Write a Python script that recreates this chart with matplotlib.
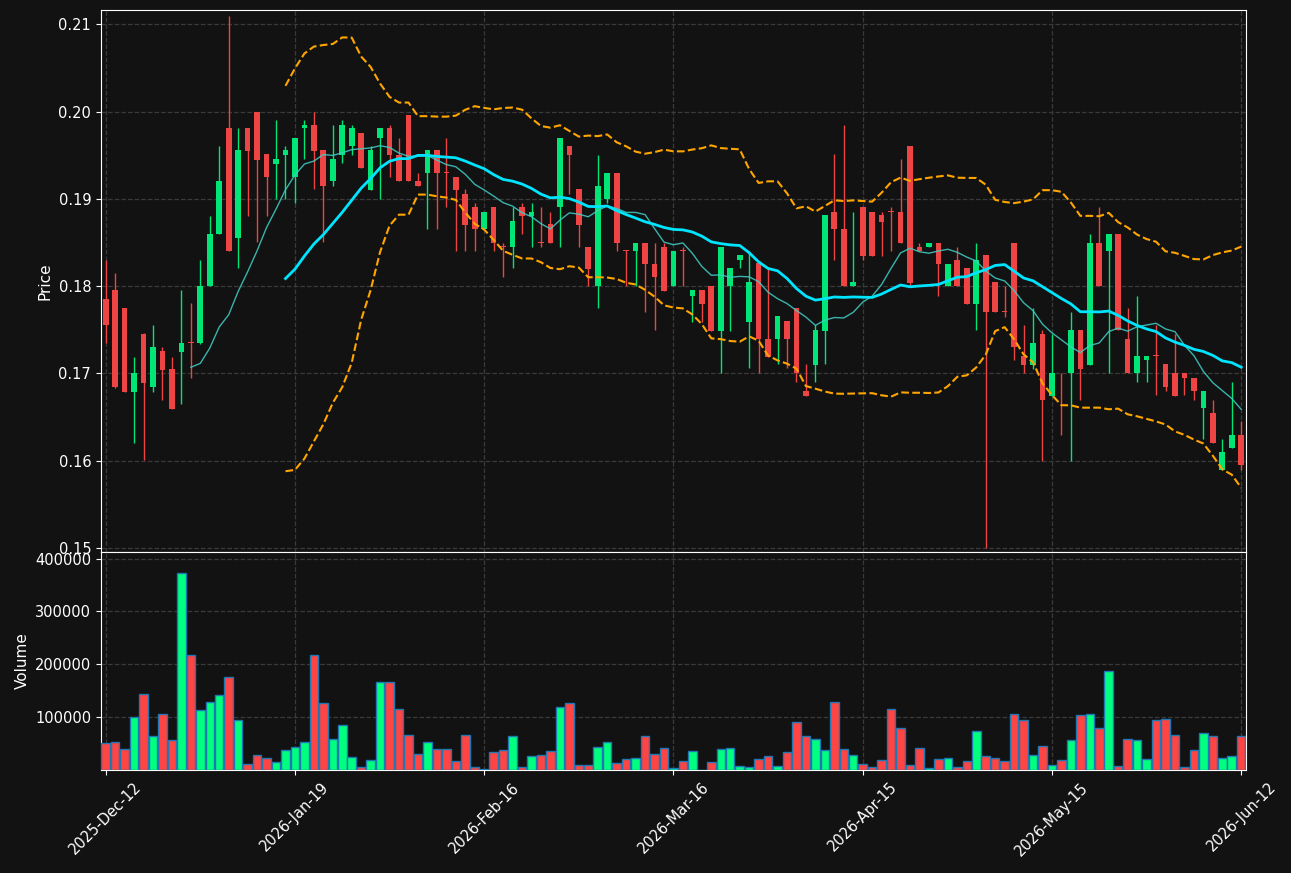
"""Candlestick chart with MA10/MA20, Bollinger bands and a volume panel."""

import matplotlib

matplotlib.use("Agg")

import matplotlib.pyplot as plt  # noqa: E402
import numpy as np  # noqa: E402
import pandas as pd  # noqa: E402

BG = "#121212"
UP = "#00e676"
DOWN = "#ef4444"
VOL_UP = "#00ff7f"
VOL_DOWN = "#ff4444"
VOL_EDGE = "#1f77b4"
MA_SHORT = "#40d0c8"
MA_LONG = "#00e5ff"
BAND = "#ffa500"
GRID = "#3a3a3a"
INK = "white"

opens = [
    0.1785, 0.1796, 0.1775, 0.1679, 0.1745, 0.1685, 0.1726, 0.1705, 0.1725, 0.1736,
    0.1735, 0.1800, 0.1860, 0.1981, 0.1855, 0.1981, 0.2000, 0.1951, 0.1940, 0.1950,
    0.1925, 0.1981, 0.1985, 0.1956, 0.1920, 0.1950, 0.1961, 0.1976, 0.1910, 0.1970,
    0.1981, 0.1950, 0.1996, 0.1921, 0.1930, 0.1956, 0.1931, 0.1925, 0.1906, 0.1891,
    0.1866, 0.1891, 0.1846, 0.1845, 0.1891, 0.1880, 0.1851, 0.1871, 0.1891, 0.1961,
    0.1911, 0.1845, 0.1800, 0.1900, 0.1930, 0.1841, 0.1840, 0.1850, 0.1825, 0.1845,
    0.1800, 0.1841, 0.1789, 0.1796, 0.1800, 0.1749, 0.1800, 0.1830, 0.1759, 0.1826,
    0.1740, 0.1740, 0.1760, 0.1775, 0.1680, 0.1710, 0.1749, 0.1885, 0.1866, 0.1800,
    0.1891, 0.1885, 0.1881, 0.1886, 0.1885, 0.1961, 0.1845, 0.1845, 0.1850, 0.1800,
    0.1830, 0.1821, 0.1780, 0.1836, 0.1805, 0.1771, 0.1850, 0.1720, 0.1710, 0.1745,
    0.1674, 0.1701, 0.1700, 0.1750, 0.1710, 0.1850, 0.1840, 0.1860, 0.1740, 0.1700,
    0.1715, 0.1721, 0.1711, 0.1700, 0.1700, 0.1695, 0.1660, 0.1655, 0.1590, 0.1615,
    0.1630,
]
highs = [
    0.1830, 0.1815, 0.1775, 0.1719, 0.1746, 0.1755, 0.1730, 0.1719, 0.1796, 0.1781,
    0.1830, 0.1880, 0.1961, 0.2110, 0.1981, 0.1981, 0.2000, 0.1951, 0.1990, 0.1961,
    0.1970, 0.1990, 0.2000, 0.1956, 0.1985, 0.1990, 0.1985, 0.1976, 0.1961, 0.1981,
    0.1985, 0.1970, 0.1996, 0.1930, 0.1956, 0.1956, 0.1970, 0.1925, 0.1911, 0.1895,
    0.1885, 0.1891, 0.1850, 0.1891, 0.1895, 0.1895, 0.1891, 0.1885, 0.1970, 0.1961,
    0.1911, 0.1845, 0.1950, 0.1930, 0.1930, 0.1841, 0.1850, 0.1850, 0.1850, 0.1850,
    0.1840, 0.1845, 0.1796, 0.1796, 0.1800, 0.1845, 0.1821, 0.1836, 0.1840, 0.1826,
    0.1821, 0.1766, 0.1760, 0.1775, 0.1711, 0.1756, 0.1881, 0.1951, 0.1985, 0.1885,
    0.1891, 0.1885, 0.1885, 0.1891, 0.1946, 0.1961, 0.1850, 0.1850, 0.1850, 0.1825,
    0.1845, 0.1821, 0.1850, 0.1836, 0.1805, 0.1800, 0.1850, 0.1755, 0.1775, 0.1750,
    0.1745, 0.1701, 0.1770, 0.1750, 0.1860, 0.1891, 0.1860, 0.1860, 0.1775, 0.1789,
    0.1720, 0.1755, 0.1711, 0.1745, 0.1700, 0.1695, 0.1680, 0.1670, 0.1625, 0.1690,
    0.1645,
]
lows = [
    0.1735, 0.1683, 0.1679, 0.1620, 0.1601, 0.1679, 0.1670, 0.1659, 0.1665, 0.1695,
    0.1734, 0.1800, 0.1860, 0.1840, 0.1821, 0.1880, 0.1851, 0.1880, 0.1900, 0.1900,
    0.1895, 0.1946, 0.1911, 0.1851, 0.1915, 0.1941, 0.1950, 0.1935, 0.1910, 0.1900,
    0.1925, 0.1920, 0.1920, 0.1915, 0.1866, 0.1866, 0.1891, 0.1840, 0.1840, 0.1840,
    0.1866, 0.1840, 0.1810, 0.1821, 0.1860, 0.1845, 0.1845, 0.1850, 0.1845, 0.1906,
    0.1845, 0.1800, 0.1775, 0.1895, 0.1840, 0.1800, 0.1800, 0.1770, 0.1750, 0.1795,
    0.1800, 0.1800, 0.1759, 0.1759, 0.1749, 0.1700, 0.1749, 0.1821, 0.1706, 0.1700,
    0.1719, 0.1711, 0.1706, 0.1690, 0.1674, 0.1690, 0.1711, 0.1830, 0.1800, 0.1800,
    0.1830, 0.1835, 0.1835, 0.1840, 0.1850, 0.1800, 0.1840, 0.1845, 0.1789, 0.1800,
    0.1800, 0.1780, 0.1750, 0.1500, 0.1770, 0.1765, 0.1715, 0.1700, 0.1705, 0.1600,
    0.1674, 0.1630, 0.1600, 0.1670, 0.1710, 0.1800, 0.1700, 0.1750, 0.1700, 0.1690,
    0.1690, 0.1675, 0.1680, 0.1674, 0.1675, 0.1670, 0.1625, 0.1620, 0.1590, 0.1615,
    0.1590,
]
closes = [
    0.1755, 0.1685, 0.1679, 0.1700, 0.1689, 0.1730, 0.1704, 0.1659, 0.1735, 0.1735,
    0.1800, 0.1860, 0.1921, 0.1840, 0.1956, 0.1955, 0.1945, 0.1925, 0.1946, 0.1956,
    0.1970, 0.1985, 0.1955, 0.1915, 0.1946, 0.1985, 0.1981, 0.1935, 0.1956, 0.1981,
    0.1950, 0.1920, 0.1920, 0.1915, 0.1956, 0.1930, 0.1930, 0.1910, 0.1870, 0.1866,
    0.1885, 0.1850, 0.1845, 0.1875, 0.1880, 0.1885, 0.1850, 0.1850, 0.1970, 0.1950,
    0.1870, 0.1820, 0.1915, 0.1930, 0.1850, 0.1840, 0.1850, 0.1825, 0.1810, 0.1795,
    0.1840, 0.1840, 0.1796, 0.1780, 0.1749, 0.1845, 0.1821, 0.1836, 0.1805, 0.1740,
    0.1719, 0.1766, 0.1740, 0.1700, 0.1674, 0.1750, 0.1881, 0.1866, 0.1800, 0.1805,
    0.1835, 0.1835, 0.1874, 0.1885, 0.1850, 0.1804, 0.1840, 0.1850, 0.1825, 0.1825,
    0.1800, 0.1780, 0.1830, 0.1770, 0.1770, 0.1770, 0.1730, 0.1710, 0.1735, 0.1670,
    0.1700, 0.1700, 0.1750, 0.1705, 0.1850, 0.1800, 0.1860, 0.1750, 0.1700, 0.1720,
    0.1720, 0.1720, 0.1685, 0.1674, 0.1695, 0.1680, 0.1680, 0.1620, 0.1610, 0.1630,
    0.1595,
]
volumes = [
    50600, 52500, 39200, 100000, 143700, 63900, 105700, 56300, 373400, 217700,
    113300, 128500, 141800, 175900, 94300, 10800, 27800, 22200, 14600, 37300,
    43000, 52500, 217700, 126600, 58200, 84800, 24100, 6300, 18400, 166500,
    166500, 115200, 65800, 29700, 52500, 39200, 39200, 16500, 65800, 5100,
    1000, 33500, 37300, 63900, 6300, 25900, 27800, 35400, 119000, 126600,
    8900, 8900, 43000, 52500, 12700, 20300, 22200, 63900, 29700, 41100,
    3200, 16500, 35400, 500, 14600, 39200, 41100, 7000, 5100, 20300,
    25900, 7000, 33500, 90500, 63900, 58200, 37300, 128500, 39200, 27800,
    10800, 5100, 18400, 115200, 79100, 8900, 41100, 3200, 20300, 22200,
    5100, 16500, 73400, 25900, 22200, 16500, 105700, 94300, 27800, 44900,
    8900, 18400, 56300, 103800, 105700, 79100, 187300, 7000, 58200, 56300,
    20300, 94300, 96200, 65800, 5100, 37300, 69600, 63900, 22200, 25900,
    63900,
]
tick_labels = [
    "2025-Dec-12", "2026-Jan-19", "2026-Feb-16", "2026-Mar-16",
    "2026-Apr-15", "2026-May-15", "2026-Jun-12",
]
tick_step = 20

df = pd.DataFrame({"open": opens, "high": highs, "low": lows,
                   "close": closes, "volume": volumes})
x = np.arange(len(df))
ma10 = df["close"].rolling(10).mean()
ma20 = df["close"].rolling(20).mean()
sd20 = df["close"].rolling(20).std(ddof=0)
upper = ma20 + 2 * sd20
lower = ma20 - 2 * sd20

up = df["close"] >= df["open"]
body_colors = np.where(up, UP, DOWN)
vol_colors = np.where(up, VOL_UP, VOL_DOWN)

fig = plt.figure(figsize=(12.91, 8.73), dpi=100, facecolor=BG)
ax = fig.add_axes([0.0782, 0.3677, 0.8869, 0.6208], facecolor=BG)
axv = fig.add_axes([0.0782, 0.1180, 0.8869, 0.2497], facecolor=BG, sharex=ax)

# wicks, then bodies on top
ax.vlines(x, df["low"], df["high"], colors=body_colors, linewidth=1, zorder=2)
body_lo = np.minimum(df["open"], df["close"])
body_h = np.maximum((df["close"] - df["open"]).abs(), 0.0001)
ax.bar(x, body_h, bottom=body_lo, width=0.6, color=body_colors,
       linewidth=0, zorder=3)

ax.plot(x, ma10, color=MA_SHORT, linewidth=1, alpha=0.85, zorder=4)
ax.plot(x, ma20, color=MA_LONG, linewidth=2, zorder=4)
ax.plot(x, upper, color=BAND, linewidth=1.5, linestyle="--", zorder=4)
ax.plot(x, lower, color=BAND, linewidth=1.5, linestyle="--", zorder=4)

ax.set_ylim(df["low"].min() * 0.997, df["high"].max() * 1.003)
ax.set_yticks([0.15, 0.16, 0.17, 0.18, 0.19, 0.20, 0.21])
ax.set_ylabel("Price", color=INK, fontsize=11)

axv.bar(x, df["volume"], width=0.9, color=vol_colors,
        edgecolor=VOL_EDGE, linewidth=1, zorder=3)
axv.set_ylim(0, df["volume"].max() * 1.105)
axv.set_yticks([100000, 200000, 300000, 400000])
axv.set_ylabel("Volume", color=INK, fontsize=11)

axv.set_xlim(-0.5, len(df) - 0.5)
axv.set_xticks(x[::tick_step])
axv.set_xticklabels(tick_labels, rotation=45)
ax.tick_params(axis="x", labelbottom=False, length=0)

for a in (ax, axv):
    a.grid(True, color=GRID, linestyle="--", linewidth=0.9)
    a.set_axisbelow(True)
    a.tick_params(colors=INK, labelsize=10.5)
    for spine in a.spines.values():
        spine.set_color(INK)

fig.savefig("out.png", facecolor=BG)
plt.close(fig)
